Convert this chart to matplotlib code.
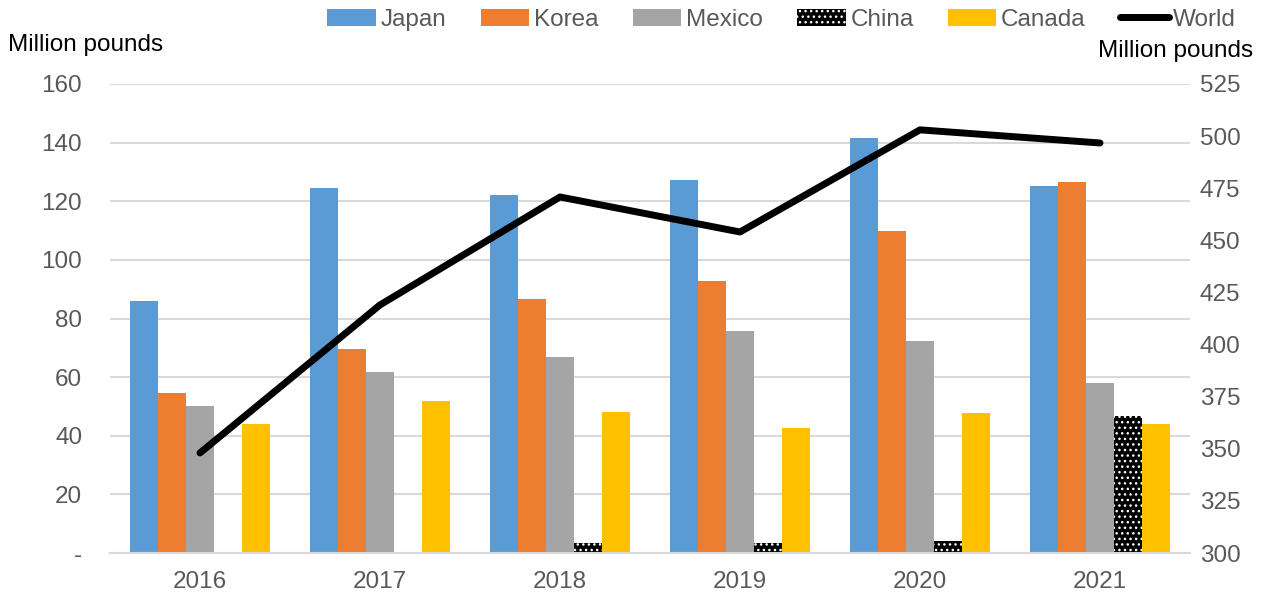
import numpy as np
import matplotlib.pyplot as plt

plt.rcParams['font.family'] = ['Liberation Sans', 'DejaVu Sans']

years = ['2016', '2017', '2018', '2019', '2020', '2021']
japan = [86.0, 124.5, 122.0, 127.2, 141.6, 125.2]
korea = [54.6, 69.6, 86.6, 92.8, 109.8, 126.6]
mexico = [50.1, 61.7, 66.9, 75.7, 72.3, 58.0]
china = [0.0, 0.0, 3.4, 3.5, 4.1, 46.7]
canada = [44.0, 51.9, 48.1, 42.6, 47.8, 44.0]
world = [348, 419, 470.8, 454, 503, 496.7]

grey = '#595959'
fs = 17.5
fig = plt.figure(figsize=(12.61, 5.94), dpi=100)
ax = fig.add_axes([0.0872, 0.069, 0.8565, 0.7896])
ax2 = ax.twinx()

x = np.arange(len(years))
w = 0.155
series = [('Japan', japan, '#5b9bd5'), ('Korea', korea, '#ed7d31'),
          ('Mexico', mexico, '#a5a5a5'), ('China', china, 'black'),
          ('Canada', canada, '#ffc000')]
handles = []
for i, (name, vals, col) in enumerate(series):
    off = (i - 2) * w
    if name == 'China':
        b = ax.bar(x + off, vals, w, color='black', edgecolor='white',
                   hatch='...', linewidth=0, label=name)
    else:
        b = ax.bar(x + off, vals, w, color=col, linewidth=0, label=name)
    handles.append(b)

ln, = ax2.plot(x, world, color='black', lw=5, solid_capstyle='round', label='World')
handles.append(ln)

ax.set_xlim(-0.5, 5.5)
ax.set_ylim(0, 160)
ax.set_yticks(range(0, 161, 20))
ax.set_yticklabels(['-'] + [str(v) for v in range(20, 161, 20)])
ax2.set_ylim(300, 525)
ax2.set_yticks(range(300, 526, 25))
ax.set_xticks(x)
ax.set_xticklabels(years)

ax.grid(axis='y', color='#d9d9d9', lw=1.5)
ax.set_axisbelow(True)
for a in (ax, ax2):
    for s in a.spines.values():
        s.set_visible(False)
    a.tick_params(length=0, labelsize=fs, colors=grey)
ax.spines['bottom'].set_visible(True)
ax.spines['bottom'].set_color('#d9d9d9')
ax.spines['bottom'].set_linewidth(1.5)
ax.tick_params(axis='y', pad=20)
ax.tick_params(axis='x', pad=13)
ax2.tick_params(axis='y', pad=7)

fig.text(0.006, 0.924, 'Million pounds', fontsize=fs, color='black', va='center')
fig.text(0.994, 0.914, 'Million pounds', fontsize=fs, color='black', ha='right', va='center')

fig.legend(handles=handles, labels=[h.get_label() for h in handles],
           loc='center', bbox_to_anchor=(0.62, 0.967), ncol=6, frameon=False,
           fontsize=fs, labelcolor=grey, handlelength=2.0, handleheight=0.7,
           handletextpad=0.2, columnspacing=1.4, borderaxespad=0)

fig.savefig('out.png', dpi=100)
